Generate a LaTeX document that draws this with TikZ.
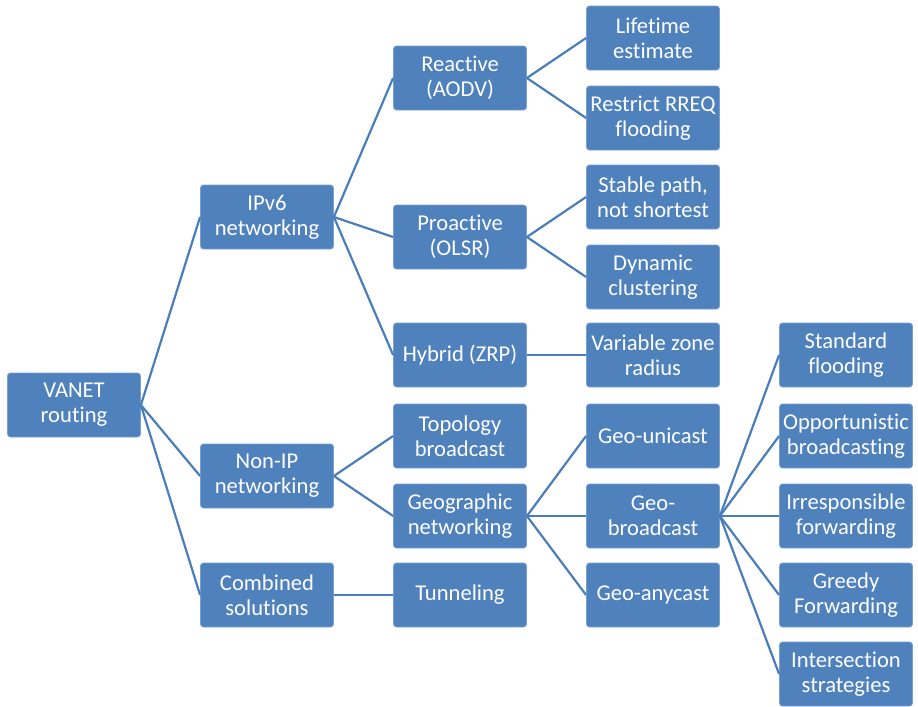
\documentclass[tikz,border=0pt]{standalone}
\usepackage{fontspec}
\setmainfont{Carlito}[Ligatures=NoCommon]
\usetikzlibrary{positioning}
\definecolor{caixaazul}{RGB}{79,129,189}
\definecolor{bordaazul}{RGB}{120,160,210}
\definecolor{linhaazul}{RGB}{74,126,187}
\newcommand{\ramo}{\draw[line width=1.1pt,linhaazul]}

\begin{document}
\begin{tikzpicture}[x=0.5pt,y=-0.5pt,
    caixa/.style={draw=bordaazul,line width=0.4pt,fill=caixaazul,rounded corners=1.5pt,
      minimum width=66.5pt,minimum height=32pt,inner sep=1pt,align=center,
      text=white,font=\fontsize{11.3}{12.6}\selectfont}]
      \useasboundingbox (0,0) rectangle (918,707);

      % nível 0 e 1
      \node[caixa](vanet)  at (74,405)  {VANET\\routing};
      \node[caixa](ipv6)   at (267,217) {IPv6\\networking};
      \node[caixa](nonip)  at (267,476) {Non-IP\\networking};
      \node[caixa](comb)   at (267,595) {Combined\\solutions};

      \ramo(vanet.east) -- (ipv6.west);
      \ramo(vanet.east) -- (nonip.west);
      \ramo(vanet.east) -- (comb.west);

      % nível 2
      \node[caixa](aodv)   at (460,78)  {Reactive\\(AODV)};
      \node[caixa](olsr)   at (460,237) {Proactive\\(OLSR)};
      \node[caixa](zrp)    at (460,355) {Hybrid (ZRP)};
      \node[caixa](topo)   at (460,436) {Topology\\broadcast};
      \node[caixa](geonet) at (460,516) {Geographic\\networking};
      \node[caixa](tunel)  at (460,595) {Tunneling};

      \ramo(ipv6.east) -- (aodv.west);
      \ramo(ipv6.east) -- (olsr.west);
      \ramo(ipv6.east) -- (zrp.west);
      \ramo(nonip.east) -- (topo.west);
      \ramo(nonip.east) -- (geonet.west);
      \ramo(comb.east) -- (tunel.west);

      % nível 3
      \node[caixa](vida)   at (653,38)  {Lifetime\\estimate};
      \node[caixa](rreq)   at (653,118) {Restrict RREQ\\flooding};
      \node[caixa](estav)  at (653,197) {Stable path,\\not shortest};
      \node[caixa](clust)  at (653,277) {Dynamic\\clustering};
      \node[caixa](zona)   at (653,355) {Variable zone\\radius};
      \node[caixa](guni)   at (653,436) {Geo-unicast};
      \node[caixa](gbroad) at (653,516) {Geo-\\broadcast};
      \node[caixa](gany)   at (653,595) {Geo-anycast};

      \ramo(aodv.east) -- (vida.west);
      \ramo(aodv.east) -- (rreq.west);
      \ramo(olsr.east) -- (estav.west);
      \ramo(olsr.east) -- (clust.west);
      \ramo(zrp.east) -- (zona.west);
      \ramo(geonet.east) -- (guni.west);
      \ramo(geonet.east) -- (gbroad.west);
      \ramo(geonet.east) -- (gany.west);

      % nível 4
      \node[caixa](flood)  at (846,355) {Standard\\flooding};
      \node[caixa](oport)  at (846,436) {Opportunistic\\broadcasting};
      \node[caixa](irresp) at (846,516) {Irresponsible\\forwarding};
      \node[caixa](greedy) at (846,595) {Greedy\\Forwarding};
      \node[caixa](inter)  at (846,674) {Intersection\\strategies};

      \ramo(gbroad.east) -- (flood.west);
      \ramo(gbroad.east) -- (oport.west);
      \ramo(gbroad.east) -- (irresp.west);
      \ramo(gbroad.east) -- (greedy.west);
      \ramo(gbroad.east) -- (inter.west);
\end{tikzpicture}
\end{document}
